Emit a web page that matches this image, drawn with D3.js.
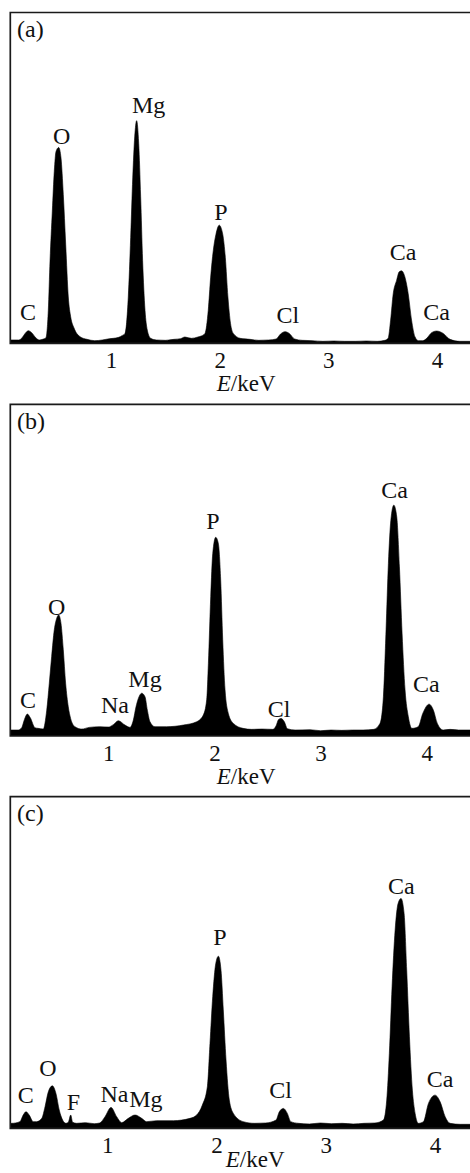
<!DOCTYPE html>
<html>
<head>
<meta charset="utf-8">
<script src="https://cdn.jsdelivr.net/npm/d3@7/dist/d3.min.js"></script>
<style>
  html, body { margin: 0; padding: 0; background: #fff; }
  svg { display: block; }
  text { font-family: "Liberation Serif", "Times New Roman", serif; fill: #111; }
</style>
</head>
<body>
<svg id="chart" width="470" height="1173"></svg>
<script>
// ---------- DATA (energy in keV, intensity in % of panel height) ----------
const tickValues = [1, 2, 3, 4];
const axisTitleItalic = "E";
const axisTitleRest = "/keV";
const panelNames = ["(a)", "(b)", "(c)"];

const specA = [
  [0.07,1.0],[0.15,1.0],[0.18,1.6],[0.21,3.0],[0.24,3.8],[0.27,3.2],[0.31,1.6],[0.34,1.0],
  [0.37,1.2],[0.40,1.6],[0.423,10],[0.439,25],[0.46,40],[0.478,52],[0.494,58],[0.519,59.2],
  [0.54,56],[0.561,45],[0.583,30],[0.607,14],[0.629,8],[0.66,4.6],[0.715,2.0],[0.78,1.2],
  [0.85,0.8],[0.92,1.0],[0.97,1.3],[1.02,1.5],[1.07,1.8],[1.10,2.3],[1.129,3.0],[1.159,14],
  [1.181,32],[1.20,50],[1.218,62.4],[1.236,67.3],[1.255,60.4],[1.273,44.3],[1.291,25],
  [1.313,10],[1.334,4],[1.365,1.5],[1.42,1.0],[1.50,0.9],[1.58,1.2],[1.64,1.4],[1.68,1.9],
  [1.74,1.5],[1.80,1.9],[1.83,2.2],[1.865,3.0],[1.895,10],[1.917,20],[1.941,28],[1.966,33],
  [1.996,35.7],[2.028,33],[2.052,26],[2.076,14],[2.10,6],[2.125,3],[2.19,1.5],[2.28,1.2],
  [2.36,0.9],[2.45,1.0],[2.52,1.3],[2.56,2.8],[2.60,3.5],[2.64,3.0],[2.69,1.3],[2.76,0.9],
  [2.85,0.8],[2.95,0.6],[3.05,0.7],[3.15,0.6],[3.25,0.6],[3.35,0.7],[3.45,0.6],[3.52,0.9],
  [3.55,1.5],[3.573,7],[3.597,15],[3.628,19],[3.652,21.6],[3.674,21.9],[3.705,20],[3.735,15],
  [3.766,7],[3.797,2],[3.83,0.8],[3.87,0.8],[3.905,1.5],[3.95,3.2],[3.996,3.7],[4.057,3.0],
  [4.12,1.2],[4.21,0.6],[4.30,0.6],[4.41,0.6]
];
const specB = [
  [0.07,1.8],[0.15,1.8],[0.184,2.5],[0.21,5.0],[0.237,6.6],[0.265,5.5],[0.309,2.5],[0.34,2.3],
  [0.387,2.1],[0.42,7.8],[0.444,15.9],[0.466,23.9],[0.491,32],[0.514,35.5],[0.532,36.5],
  [0.554,34],[0.576,26],[0.598,15.9],[0.623,8.8],[0.645,5.3],[0.686,2.8],[0.75,2.1],[0.82,2.6],
  [0.92,2.8],[1.00,2.7],[1.05,3.5],[1.094,4.6],[1.157,3.3],[1.205,2.6],[1.236,4.8],[1.261,8.8],
  [1.283,11.3],[1.315,12.9],[1.346,11.8],[1.368,7.8],[1.393,4.3],[1.44,2.8],[1.55,2.8],
  [1.707,3.3],[1.833,4.3],[1.895,6.3],[1.927,10.9],[1.943,21.9],[1.965,42],[1.984,55],
  [2.012,59.9],[2.037,58],[2.059,47],[2.078,29],[2.10,13.9],[2.131,6.8],[2.178,3.8],[2.27,2.3],
  [2.35,2.0],[2.45,2.1],[2.55,2.0],[2.58,3.0],[2.605,5.0],[2.628,5.3],[2.66,4.2],[2.687,2.2],
  [2.76,1.8],[2.9,1.9],[3.0,1.6],[3.1,1.8],[3.2,1.7],[3.3,1.8],[3.4,1.8],[3.5,2.0],[3.56,3.8],
  [3.592,11.8],[3.617,32],[3.639,52],[3.662,65],[3.69,69.6],[3.718,66],[3.743,51],[3.768,31],
  [3.796,13.9],[3.827,5.8],[3.86,2.3],[3.92,2.8],[3.963,6.8],[4.023,9.6],[4.063,7.8],[4.10,3.8],
  [4.157,1.8],[4.22,2.0],[4.30,1.8],[4.41,1.8]
];
const specC = [
  [0.07,1.5],[0.124,1.5],[0.2,2.0],[0.23,4.0],[0.256,5.0],[0.285,4.0],[0.322,2.0],[0.353,2.0],
  [0.40,3.0],[0.43,6.5],[0.46,11],[0.497,12.8],[0.53,10.5],[0.56,5.5],[0.591,2.5],[0.622,1.5],
  [0.643,1.8],[0.665,4.0],[0.683,1.8],[0.72,1.5],[0.80,1.7],[0.88,1.4],[0.93,1.6],[0.979,3.5],
  [1.034,6.3],[1.086,3.5],[1.132,1.7],[1.192,3.0],[1.254,4.0],[1.315,3.0],[1.36,2.0],[1.452,2.3],
  [1.605,2.3],[1.757,3.0],[1.818,4.0],[1.87,7.0],[1.916,12.5],[1.94,25.6],[1.965,39.7],
  [1.993,49.7],[2.017,51.9],[2.041,47.7],[2.062,35.7],[2.087,20.6],[2.117,8.5],[2.154,4.5],
  [2.245,2.0],[2.35,1.5],[2.45,1.6],[2.545,2.5],[2.575,5.0],[2.612,6.0],[2.648,4.5],[2.68,2.0],
  [2.75,1.5],[2.85,1.3],[2.95,1.6],[3.05,1.4],[3.15,1.5],[3.25,1.3],[3.35,1.5],[3.45,1.6],
  [3.528,2.5],[3.558,8.5],[3.582,22.6],[3.607,42.7],[3.635,59.8],[3.662,67.8],[3.689,69.3],
  [3.717,64.8],[3.741,47.7],[3.766,27.6],[3.793,11.5],[3.818,4.5],[3.848,1.5],[3.894,2.0],
  [3.94,7.5],[4.0,10.0],[4.047,8.0],[4.093,3.5],[4.138,1.5],[4.23,1.2],[4.41,1.2]
];

// peak labels: element, energy of label centre, intensity of label baseline
const labelsA = [
  ["C",0.236,7.0],["O",0.547,60.2],["Mg",1.347,69.5],["P",2.012,37.3],
  ["Cl",2.627,6.0],["Ca",3.689,25.2],["Ca",3.997,7.0]
];
const labelsB = [
  ["C",0.243,8.4],["O",0.514,36.5],["Na",1.063,6.8],["Mg",1.346,14.9],["P",1.985,62.4],
  ["Cl",2.609,5.8],["Ca",3.697,71.7],["Ca",3.997,13.4]
];
const labelsC = [
  ["C",0.254,7.5],["O",0.457,15.8],["F",0.689,5.5],["Na",1.066,8.0],["Mg",1.353,6.5],
  ["P",2.032,55.3],["Cl",2.586,9.0],["Ca",3.692,70.8],["Ca",4.047,12.5]
];

// ---------- LAYOUT ----------
const layout = [
  { top: 12.5,  axis: 343.3,  x1: 111,   x4: 437,   titleShift: 0 },
  { top: 404.3, axis: 736,    x1: 108.3, x4: 426.7, titleShift: 0 },
  { top: 796.7, axis: 1128.3, x1: 107.3, x4: 435,   titleShift: 9 }
];
const spectra = [specA, specB, specC];
const labelSets = [labelsA, labelsB, labelsC];
const frameLeft = 10.3, frameRight = 482;
const fontSize = 24, tickFont = 23;
const pageH = 1173;

const svg = d3.select("#chart");

layout.forEach((L, i) => {
  const g = svg.append("g");
  const x = d3.scaleLinear().domain([1, 4]).range([L.x1, L.x4]);
  const y = d3.scaleLinear().domain([0, 100]).range([L.axis, L.top]);

  const clipId = "clip" + i;
  svg.append("clipPath").attr("id", clipId)
    .append("rect")
    .attr("x", frameLeft).attr("y", L.top)
    .attr("width", frameRight - frameLeft).attr("height", L.axis - L.top);

  // spectrum
  const area = d3.area()
    .x(d => x(d[0]))
    .y0(y(0))
    .y1(d => y(d[1]))
    .curve(d3.curveMonotoneX);
  g.append("path")
    .datum(spectra[i])
    .attr("clip-path", `url(#${clipId})`)
    .attr("d", area)
    .attr("fill", "#000")
    .attr("stroke", "#000")
    .attr("stroke-width", 0.6)
    .attr("stroke-linejoin", "round");

  // frame (top, left, bottom); right side runs off the picture
  g.append("path")
    .attr("d", `M${frameRight},${L.top}H${frameLeft}V${L.axis}H${frameRight}`)
    .attr("fill", "none")
    .attr("stroke", "#1a1a1a")
    .attr("stroke-width", 1.7);

  // x axis tick labels
  const axis = d3.axisBottom(x).tickValues(tickValues).tickSize(0).tickFormat(d3.format("d"));
  const ax = g.append("g").attr("transform", `translate(0,${L.axis})`).call(axis);
  ax.select(".domain").remove();
  ax.selectAll("text")
    .attr("y", 24.5).attr("dy", 0)
    .style("font-family", '"Liberation Serif", "Times New Roman", serif')
    .style("font-size", tickFont + "px")
    .attr("fill", "#111");

  // axis title (kept inside the page)
  const t = g.append("text")
    .attr("x", (frameLeft + frameRight) / 2 + L.titleShift)
    .attr("y", Math.min(L.axis + 47.7, pageH - 6))
    .attr("text-anchor", "middle")
    .style("font-size", tickFont + "px");
  t.append("tspan").attr("font-style", "italic").text(axisTitleItalic);
  t.append("tspan").text(axisTitleRest);

  // panel name
  g.append("text")
    .attr("x", 17)
    .attr("y", L.top + 24.5)
    .style("font-size", fontSize + "px")
    .text(panelNames[i]);

  // peak labels
  g.selectAll("text.peak")
    .data(labelSets[i])
    .join("text")
    .attr("class", "peak")
    .attr("x", d => x(d[1]))
    .attr("y", d => y(d[2]))
    .attr("text-anchor", "middle")
    .style("font-size", fontSize + "px")
    .text(d => d[0]);
});
</script>
</body>
</html>
